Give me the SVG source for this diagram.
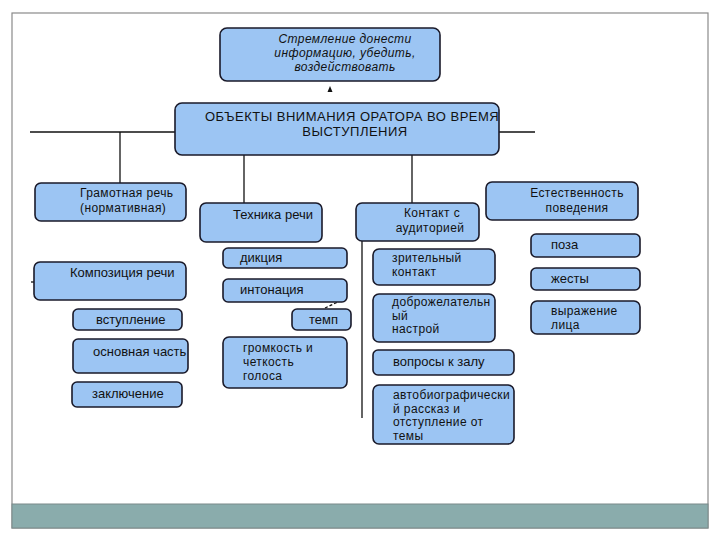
<svg xmlns="http://www.w3.org/2000/svg" width="720" height="540" viewBox="0 0 720 540">
<style>
.b{fill:#9cc5f3;stroke:#1a1a2a;stroke-width:1.6}
.t{font-family:"Liberation Sans",Arial,sans-serif;font-size:13px;fill:#111}
.m{font-size:12px;letter-spacing:0.4px}
.c{stroke:#111;stroke-width:1.3;fill:none}
</style>
<rect x="0" y="0" width="720" height="540" fill="#fff"/>
<rect x="12" y="13" width="696" height="515" fill="none" stroke="#8a8a8a" stroke-width="1.2"/>
<rect x="12" y="504" width="696" height="24" fill="#8aacac" stroke="#7a8a8a" stroke-width="1"/>
<g id="connectors">
<line class="c" x1="30" y1="132" x2="535" y2="132"/>
<line class="c" x1="120" y1="132" x2="120" y2="183"/>
<line class="c" x1="244" y1="155" x2="244" y2="203"/>
<line class="c" x1="412" y1="155" x2="412" y2="203"/>
<line class="c" x1="362" y1="241" x2="362" y2="418"/>
<line class="c" x1="31" y1="282" x2="34" y2="282"/>
<line class="c" x1="325" y1="308" x2="340" y2="301" stroke-dasharray="3,2"/>
<polygon points="330,86 327.5,92 332.5,92" fill="#111"/>
</g>
<g id="goal"><rect class="b" x="220" y="28" width="220" height="53" rx="7"/>
<text class="t m" font-style="italic" text-anchor="middle"><tspan x="345" y="43">Стремление донести</tspan><tspan x="345" y="57">информацию, убедить,</tspan><tspan x="345" y="71">воздействовать</tspan></text></g>
<g id="main"><rect class="b" x="175" y="103" width="324" height="52" rx="7"/>
<text class="t" letter-spacing="0.5"><tspan x="205" y="121">ОБЪЕКТЫ ВНИМАНИЯ ОРАТОРА ВО ВРЕМЯ</tspan><tspan x="355" y="136" text-anchor="middle">ВЫСТУПЛЕНИЯ</tspan></text></g>
<g id="gramotnaya"><rect class="b" x="35" y="183" width="151" height="38" rx="6"/>
<text class="t m"><tspan x="80" y="197">Грамотная речь</tspan><tspan x="80" y="212">(нормативная)</tspan></text></g>
<g id="kompoziciya"><rect class="b" x="34" y="262" width="152" height="38" rx="6"/>
<text class="t" x="70" y="277">Композиция речи</text></g>
<g id="vstuplenie"><rect class="b" x="73" y="309" width="109" height="21" rx="5"/>
<text class="t" x="96" y="324">вступление</text></g>
<g id="osnovnaya"><rect class="b" x="73" y="339" width="115" height="34" rx="5"/>
<text class="t" x="93" y="356">основная часть</text></g>
<g id="zaklyuchenie"><rect class="b" x="72" y="382" width="110" height="25" rx="5"/>
<text class="t" x="92" y="398">заключение</text></g>
<g id="tehnika"><rect class="b" x="200" y="203" width="122" height="39" rx="6"/>
<text class="t" x="233" y="219">Техника речи</text></g>
<g id="dikciya"><rect class="b" x="223" y="248" width="124" height="20" rx="5"/>
<text class="t" x="240" y="262">дикция</text></g>
<g id="intonaciya"><rect class="b" x="223" y="279" width="124" height="23" rx="5"/>
<text class="t" x="240" y="294">интонация</text></g>
<g id="temp"><rect class="b" x="292" y="309" width="59" height="21" rx="5"/>
<text class="t" x="309" y="324">темп</text></g>
<g id="gromkost"><rect class="b" x="223" y="337" width="124" height="51" rx="6"/>
<text class="t m"><tspan x="243" y="352">громкость и</tspan><tspan x="243" y="366">четкость</tspan><tspan x="243" y="380">голоса</tspan></text></g>
<g id="kontakt"><rect class="b" x="356" y="203" width="123" height="38" rx="6"/>
<text class="t m" text-anchor="middle"><tspan x="432" y="217">Контакт с</tspan><tspan x="430" y="232">аудиторией</tspan></text></g>
<g id="zritelny"><rect class="b" x="373" y="249" width="122" height="36" rx="6"/>
<text class="t m"><tspan x="392" y="262">зрительный</tspan><tspan x="392" y="276">контакт</tspan></text></g>
<g id="dobrozhel"><rect class="b" x="373" y="294" width="122" height="48" rx="6"/>
<text class="t m"><tspan x="392" y="306">доброжелательн</tspan><tspan x="392" y="319.5">ый</tspan><tspan x="392" y="333">настрой</tspan></text></g>
<g id="voprosy"><rect class="b" x="373" y="350" width="141" height="25" rx="5"/>
<text class="t" x="393" y="366">вопросы к залу</text></g>
<g id="avtobio"><rect class="b" x="373" y="385" width="141" height="59" rx="6"/>
<text class="t m" letter-spacing="0.2"><tspan x="393" y="399">автобиографически</tspan><tspan x="393" y="412.5">й рассказ и</tspan><tspan x="393" y="426">отступление от</tspan><tspan x="393" y="439.5">темы</tspan></text></g>
<g id="estestv"><rect class="b" x="486" y="182" width="152" height="38" rx="6"/>
<text class="t m" text-anchor="middle"><tspan x="577" y="197">Естественность</tspan><tspan x="577" y="212">поведения</tspan></text></g>
<g id="poza"><rect class="b" x="531" y="234" width="109" height="23" rx="5"/>
<text class="t" x="551" y="249">поза</text></g>
<g id="zhesty"><rect class="b" x="531" y="268" width="109" height="22" rx="5"/>
<text class="t" x="551" y="283">жесты</text></g>
<g id="vyrazhenie"><rect class="b" x="531" y="301" width="109" height="33" rx="6"/>
<text class="t m"><tspan x="551" y="315">выражение</tspan><tspan x="551" y="329">лица</tspan></text></g>
</svg>
